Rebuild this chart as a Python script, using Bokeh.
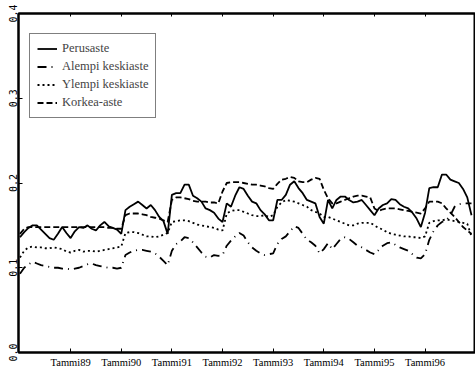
from bokeh.plotting import figure
from bokeh.models import Range1d, FixedTicker, LinearAxis, Legend, LegendItem, PrintfTickFormatter
from bokeh.embed import file_html
from bokeh.resources import INLINE

# month index 0 = Tammi 1988
perusaste = [
    0.136, 0.142, 0.147, 0.150, 0.150, 0.145, 0.140, 0.135, 0.133, 0.140, 0.148, 0.141,
    0.135, 0.143, 0.148, 0.147, 0.150, 0.146, 0.144, 0.150, 0.154, 0.149, 0.147, 0.145,
    0.140, 0.168, 0.172, 0.175, 0.178, 0.174, 0.170, 0.174, 0.168, 0.160, 0.155, 0.140,
    0.186, 0.188, 0.188, 0.198, 0.198, 0.185, 0.182, 0.178, 0.170, 0.168, 0.165, 0.158,
    0.154, 0.176, 0.172, 0.185, 0.195, 0.193, 0.185, 0.178, 0.176, 0.168, 0.163, 0.156,
    0.156, 0.180, 0.180, 0.186, 0.198, 0.202, 0.194, 0.188, 0.180, 0.178, 0.176, 0.160,
    0.152, 0.180, 0.170, 0.180, 0.184, 0.184, 0.180, 0.177, 0.178, 0.180, 0.174, 0.168,
    0.162, 0.170, 0.174, 0.176, 0.181, 0.180, 0.175, 0.172, 0.170, 0.165, 0.158, 0.148,
    0.165, 0.194, 0.195, 0.195, 0.210, 0.210, 0.204, 0.202, 0.200, 0.193, 0.183, 0.162,
]
alempi = [
    0.093, 0.100, 0.104, 0.107, 0.105, 0.103, 0.102, 0.101, 0.100, 0.100, 0.099, 0.099,
    0.098, 0.099, 0.100, 0.102, 0.104, 0.105, 0.103, 0.102, 0.101, 0.100, 0.100, 0.099,
    0.100, 0.115, 0.118, 0.120, 0.121, 0.121, 0.120, 0.119, 0.117, 0.113, 0.108, 0.103,
    0.120, 0.128, 0.131, 0.136, 0.135, 0.130, 0.124, 0.118, 0.113, 0.112, 0.115, 0.114,
    0.115, 0.126, 0.132, 0.137, 0.141, 0.138, 0.130, 0.124, 0.120, 0.117, 0.115, 0.116,
    0.117, 0.128, 0.134, 0.137, 0.143, 0.149, 0.147, 0.140, 0.133, 0.130, 0.126, 0.117,
    0.122, 0.129, 0.122, 0.128, 0.134, 0.136, 0.134, 0.130, 0.126, 0.124, 0.121, 0.118,
    0.116, 0.121, 0.126, 0.129, 0.130, 0.127, 0.124, 0.122, 0.120, 0.116, 0.112, 0.111,
    0.116, 0.133, 0.143, 0.150, 0.154, 0.156, 0.162, 0.172, 0.175, 0.176, 0.176, 0.176,
]
ylempi = [
    0.112, 0.120, 0.124, 0.125, 0.124, 0.124, 0.123, 0.123, 0.124, 0.123, 0.122, 0.119,
    0.118, 0.120, 0.121, 0.119, 0.120, 0.120, 0.119, 0.120, 0.121, 0.122, 0.123, 0.124,
    0.125, 0.141, 0.142, 0.142, 0.141, 0.139, 0.137, 0.137, 0.136, 0.137, 0.139, 0.141,
    0.154, 0.155, 0.156, 0.156, 0.155, 0.153, 0.151, 0.150, 0.149, 0.148, 0.147, 0.145,
    0.144, 0.164, 0.167, 0.168, 0.168, 0.166, 0.164, 0.162, 0.161, 0.161, 0.162, 0.160,
    0.162, 0.172, 0.177, 0.180, 0.179, 0.178, 0.176, 0.174, 0.172, 0.168, 0.166, 0.164,
    0.160, 0.160, 0.158, 0.156, 0.154, 0.152, 0.150, 0.150, 0.152, 0.153, 0.153, 0.153,
    0.150, 0.147, 0.145, 0.142, 0.140, 0.139, 0.138, 0.137, 0.137, 0.136, 0.136, 0.135,
    0.137, 0.153, 0.155, 0.156, 0.156, 0.157, 0.156, 0.155, 0.154, 0.153, 0.152, 0.137,
]
korkea = [
    0.140, 0.146, 0.148, 0.148, 0.148, 0.148, 0.148, 0.148, 0.148, 0.148, 0.148, 0.148,
    0.148, 0.148, 0.148, 0.148, 0.148, 0.148, 0.148, 0.148, 0.148, 0.147, 0.147, 0.146,
    0.146, 0.162, 0.164, 0.164, 0.164, 0.163, 0.162, 0.160, 0.159, 0.158, 0.156, 0.154,
    0.180, 0.183, 0.183, 0.182, 0.181, 0.179, 0.178, 0.178, 0.178, 0.177, 0.177, 0.176,
    0.190, 0.200, 0.201, 0.201, 0.201, 0.200, 0.199, 0.198, 0.198, 0.197, 0.196, 0.194,
    0.193, 0.199, 0.204, 0.205, 0.207, 0.206, 0.202, 0.201, 0.201, 0.204, 0.206, 0.205,
    0.192, 0.182, 0.176, 0.176, 0.178, 0.180, 0.182, 0.184, 0.185, 0.185, 0.184, 0.183,
    0.170, 0.167, 0.169, 0.170, 0.170, 0.170, 0.169, 0.168, 0.167, 0.166, 0.165, 0.164,
    0.170, 0.178, 0.178, 0.178, 0.176, 0.170, 0.165, 0.160, 0.154, 0.148, 0.144, 0.140,
]
tick_labels = ["Tammi89", "Tammi90", "Tammi91", "Tammi92",
               "Tammi93", "Tammi94", "Tammi95", "Tammi96"]
y_ticks = [0.0, 0.1, 0.2, 0.3, 0.4]

months = list(range(len(perusaste)))
tick_pos = [12 * (i + 1) for i in range(len(tick_labels))]

p = figure(width=475, height=376, output_backend="svg", toolbar_location=None,
           x_range=Range1d(-0.35, 107.95), y_range=Range1d(0, 0.4),
           min_border_left=18, min_border_right=0, min_border_top=13,
           min_border_bottom=24)
p.grid.visible = False
p.outline_line_color = "black"
p.outline_line_width = 2
p.background_fill_color = "white"
p.border_fill_color = "white"

series = [
    ("Perusaste", perusaste, "solid"),
    ("Alempi keskiaste", alempi, "9 5 1 5"),
    ("Ylempi keskiaste", ylempi, "2 3"),
    ("Korkea-aste", korkea, "6 3"),
]
items = []
for name, vals, dash in series:
    r = p.line(months, vals, line_color="black", line_width=1.8, line_dash=dash)
    items.append(LegendItem(label=name, renderers=[r]))

xa = p.xaxis[0]
xa.ticker = FixedTicker(ticks=tick_pos)
xa.major_label_overrides = {t: l for t, l in zip(tick_pos, tick_labels)}
xa.major_tick_in = 4
xa.major_tick_out = 0
xa.minor_tick_line_color = None
xa.axis_line_width = 2
xa.major_label_standoff = 4
xa.major_label_text_font = "Liberation Serif"
xa.major_label_text_font_size = "10.5px"
xa.major_label_text_color = "black"

ya = p.yaxis[0]
ya.ticker = FixedTicker(ticks=y_ticks)
ya.formatter = PrintfTickFormatter(format="%.1f")
ya.major_tick_in = 4
ya.major_tick_out = 0
ya.minor_tick_line_color = None
ya.axis_line_width = 2
ya.major_label_standoff = 2
ya.major_label_orientation = "vertical"
ya.major_label_text_font = "DejaVu Sans Mono"
ya.major_label_text_font_size = "10px"
ya.major_label_text_color = "black"

top = LinearAxis(ticker=FixedTicker(ticks=tick_pos), major_label_text_font_size="0px",
                 major_tick_in=3, major_tick_out=0, minor_tick_line_color=None,
                 axis_line_width=2, major_label_standoff=0)
top.major_label_overrides = {t: "" for t in tick_pos}
p.add_layout(top, "above")

legend = Legend(items=items, location=(11, 234))
legend.border_line_color = "black"
legend.border_line_width = 1
legend.background_fill_alpha = 1
legend.label_text_font = "Liberation Serif"
legend.label_text_font_size = "12.5px"
legend.glyph_width = 20
legend.glyph_height = 15
legend.label_height = 15
legend.spacing = 3
legend.padding = 7
legend.margin = 0
legend.label_standoff = 5
p.add_layout(legend)

open("out.html", "w").write(file_html(p, INLINE))
